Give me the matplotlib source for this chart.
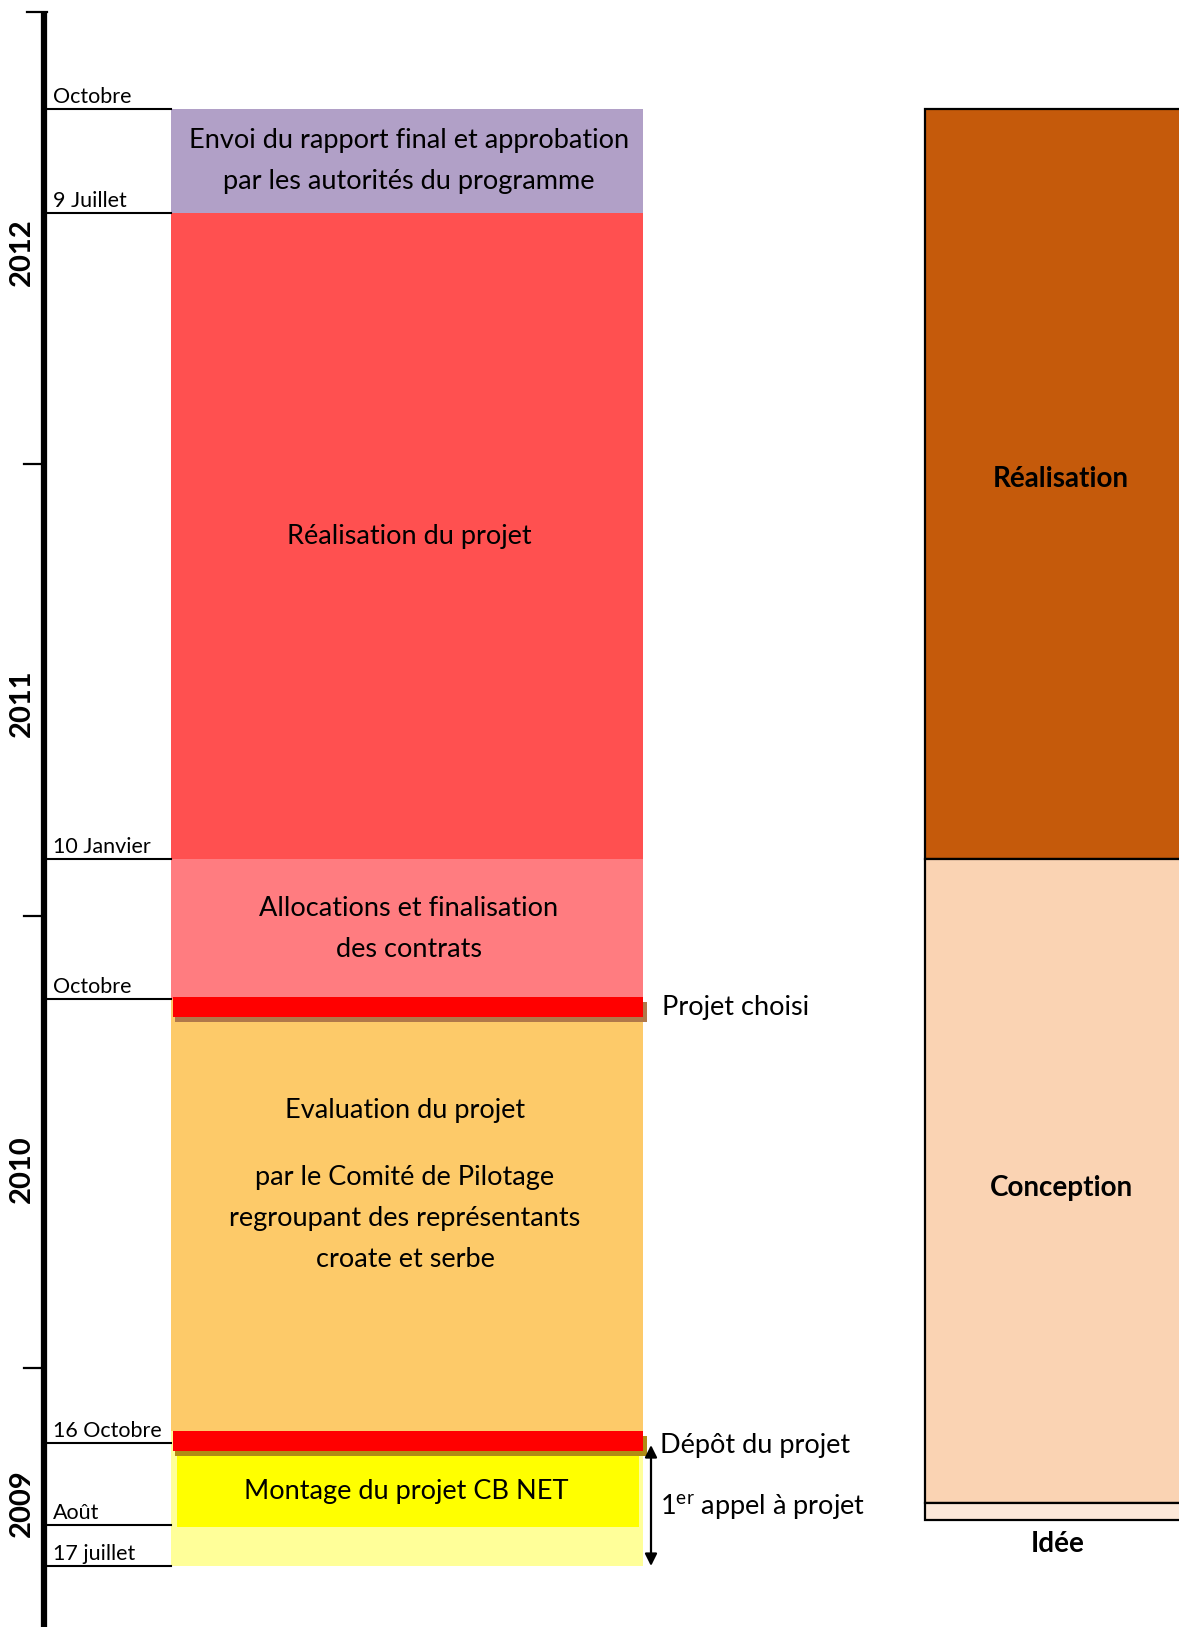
import matplotlib
matplotlib.use('Agg')
from matplotlib import pyplot as plt
from matplotlib.patches import Rectangle

plt.rcParams['font.family'] = ['Lato', 'DejaVu Sans']

# positions on the time scale are fractional years
years = [2010, 2011, 2012, 2013]
year_labels = ['2009', '2010', '2011', '2012']
year_label_pos = [2009.70, 2010.44, 2011.47, 2012.47]

date_labels = ['Octobre', '9 Juillet', '10 Janvier', 'Octobre', '16 Octobre', 'Août', '17 juillet']
date_pos = [2012.785, 2012.555, 2011.126, 2010.816, 2009.834, 2009.653, 2009.562]

block_texts = [
    'Envoi du rapport final et approbation\npar les autorités du programme',
    'Réalisation du projet',
    'Allocations et finalisation\ndes contrats',
    '',
    '',
]
block_top = [2012.785, 2012.555, 2011.126, 2010.816, 2009.861]
block_bottom = [2012.555, 2011.126, 2010.816, 2009.861, 2009.562]
block_colors = ['#B1A0C7', '#FF5050', '#FF7C80', '#FDCA69', '#FFFF99']

montage_top, montage_bottom = 2009.805, 2009.648

event_labels = ['Projet choisi', 'Dépôt du projet']
event_top = [2010.821, 2009.861]
event_bottom = [2010.777, 2009.816]
shadow_colors = ['#B0784A', '#B08C14']

phase_labels = ['Réalisation', 'Conception', 'Idée']
phase_top = [2012.785, 2011.126, 2009.701]
phase_bottom = [2011.126, 2009.701, 2009.664]
phase_colors = ['#C55A0B', '#FAD3B3', '#FCE8D9']

fig = plt.figure(figsize=(11.79, 16.27), dpi=100)
ax = fig.add_axes([0, 0, 1, 1])
ax.set_xlim(0, 1179)
ax.set_ylim(2009.427, 2013.027)
ax.axis('off')

px = (2013.027 - 2009.427) / 1627  # one pixel in years
FS = 19.5

# time axis
ax.plot([44, 44], [2009.427, years[-1]], color='black', lw=4.5, solid_capstyle='butt', zorder=5)
ax.plot([27, 47], [years[-1], years[-1]], color='black', lw=1.6, zorder=5)
for y in years[:-1]:
    ax.plot([24, 44], [y, y], color='black', lw=1.6, zorder=5)
for lab, y in zip(year_labels, year_label_pos):
    ax.text(22, y, lab, rotation=90, ha='center', va='center', fontsize=21, fontweight='bold')

bx0, bx1 = 171, 643

for lab, y in zip(date_labels, date_pos):
    ax.plot([44, bx0], [y, y], color='black', lw=1.5, zorder=4)
    ax.text(53, y + 2 * px, lab, ha='left', va='bottom', fontsize=15.5)

# left column blocks
for top, bot, col, txt in zip(block_top, block_bottom, block_colors, block_texts):
    ax.add_patch(Rectangle((bx0, bot), bx1 - bx0, top - bot, facecolor=col, edgecolor='none', zorder=1))
    if txt:
        ax.text((bx0 + bx1) / 2 + 2, (top + bot) / 2, txt, ha='center', va='center',
                fontsize=FS, linespacing=1.8, zorder=3)

# evaluation block text
ev_top = block_top[3]
ax.text(405, ev_top - 111 * px, 'Evaluation du projet', ha='center', va='center', fontsize=FS, zorder=3)
ax.text(405, ev_top - 219 * px, 'par le Comité de Pilotage\nregroupant des représentants\ncroate et serbe',
        ha='center', va='center', fontsize=FS, linespacing=1.8, zorder=3)

# montage block
ax.add_patch(Rectangle((177, montage_bottom), 639 - 177, montage_top - montage_bottom,
                       facecolor='#FFFF00', edgecolor='none', zorder=2))
ax.text(406, (montage_top + montage_bottom) / 2, 'Montage du projet CB NET', ha='center', va='center',
        fontsize=FS, zorder=3)

# event bars with shadow
for top, bot, sc in zip(event_top, event_bottom, shadow_colors):
    ax.add_patch(Rectangle((bx0 + 4, bot - 5 * px), bx1 - bx0, top - bot, facecolor=sc, edgecolor='none', zorder=2))
    ax.add_patch(Rectangle((bx0 + 2, bot), bx1 - bx0 - 2, top - bot, facecolor='#FF0000', edgecolor='none', zorder=3))

ax.text(662, (event_top[0] + event_bottom[0]) / 2 - 1 * px, event_labels[0], ha='left', va='center', fontsize=FS)
ax.text(660, date_pos[4] - 2 * px, event_labels[1], ha='left', va='center', fontsize=FS)
ax.text(660, date_pos[4] - 64 * px, r'1$^{\mathregular{er}}$ appel à projet', ha='left', va='center', fontsize=FS)

ax.annotate('', xy=(651, date_pos[4] - 2 * px), xytext=(651, date_pos[6]),
            arrowprops=dict(arrowstyle='<|-|>', color='black', lw=1.6, mutation_scale=18, shrinkA=0, shrinkB=0))

# phases column on the right
px0, px1 = 925, 1200
phase_text_shift = [5, -7, 0]
for lab, top, bot, col, sh in zip(phase_labels, phase_top, phase_bottom, phase_colors, phase_text_shift):
    ax.add_patch(Rectangle((px0, bot), px1 - px0, top - bot, facecolor=col, edgecolor='black', lw=1.6, zorder=1))
    if lab == 'Idée':
        ax.text(1058, bot - 24 * px, lab, ha='center', va='center', fontsize=20, fontweight='bold')
    else:
        ax.text(1061, (top + bot) / 2 + sh * px, lab, ha='center', va='center', fontsize=20, fontweight='bold')

fig.savefig('out.png', dpi=100)
